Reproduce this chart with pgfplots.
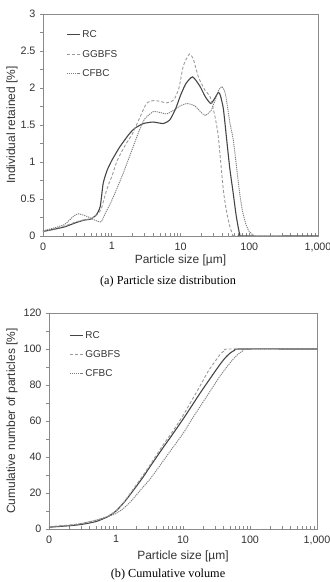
\documentclass[border=0pt]{standalone}
\usepackage{pgfplots}
\pgfplotsset{compat=1.18}
\usepackage{fontspec}
\setmainfont{Liberation Sans}
\newfontfamily\capfont{Liberation Serif}
\definecolor{rccol}{HTML}{454545}
\definecolor{ggcol}{HTML}{9A9A9A}
\definecolor{cfcol}{HTML}{7E7E7E}
\definecolor{axcol}{HTML}{8A8A8A}
\definecolor{txtcol}{HTML}{333333}
\pgfplotsset{
  rc/.style={rccol, line width=1.1bp, smooth, tension=0.35},
  gg/.style={ggcol, line width=0.9bp, dash pattern=on 3bp off 2bp, smooth, tension=0.35},
  cf/.style={cfcol, line width=0.9bp, dash pattern=on 1.2bp off 0.9bp, smooth, tension=0.35},
  common/.style={
    scale only axis,
    anchor=south west,
    xmin=0.1, xmax=1000,
    xtick={0.1,1,10,100,1000},
    xticklabels={0,1,10,100,{1,000}},
    xtick pos=bottom, ytick pos=left,
    tick align=inside,
    major tick length=3bp, minor tick length=3bp,
    y tick style={xshift=-3bp},
    tick style={draw=axcol, line width=0.6bp},
    axis line style={draw=axcol, line width=0.8bp},
    minor y tick num=1,
    /pgf/number format/assume math mode=true,
    tick label style={font=\fontsize{10.8}{12}\selectfont, text=txtcol},
    xticklabel style={yshift=-3bp},
    yticklabel style={xshift=-4bp},
    legend cell align=left,
    legend image code/.code={\draw[##1] (0bp,0bp)--(13bp,0bp);},
  }
}
\begin{document}
\begin{tikzpicture}
\useasboundingbox (0bp,0bp) rectangle (330bp,582bp);
\begin{semilogxaxis}[common, at={(43bp,346bp)}, width=275bp, height=222bp,
  ymin=0, ymax=3, ytick={0,0.5,1,1.5,2,2.5,3},
  yticklabels={0,0.5,1,1.5,2,2.5,3},
  xlabel={Particle size [µm]}, ylabel={Individual retained [\%]},
  every axis x label/.style={at={(axis description cs:0.5,-0.108)}, anchor=center, font=\fontsize{12}{14}\selectfont, text=txtcol},
  every axis y label/.style={at={(axis description cs:-0.113,0.5)}, rotate=90, anchor=center, font=\fontsize{12}{14}\selectfont, text=txtcol},
  legend style={at={(axis description cs:0.084,0.935)}, anchor=north west, draw=none, fill=none,
    font=\fontsize{10}{11}\selectfont, text=txtcol, row sep=7bp, inner sep=0pt},
]
\addplot[rc] coordinates {(0.1,0.06)(0.2,0.12)(0.3,0.18)(0.4,0.215)(0.5,0.23)(0.6,0.29)(0.68,0.40)(0.75,0.71)(0.85,0.88)(0.94,0.97)(1.0,1.02)(1.3,1.20)(1.8,1.38)(2.2,1.46)(2.9,1.52)(4.0,1.54)(5.6,1.52)(7.0,1.57)(8.5,1.72)(10,1.90)(12,2.06)(15,2.15)(19,2.03)(23,1.88)(27.5,1.79)(31,1.85)(35.5,1.94)(38,1.90)(42,1.72)(47,1.30)(52,0.92)(58,0.60)(64,0.30)(69,0.12)(73,0.02)(80,0)(1000,0)};
\addlegendentry{RC}
\addplot[gg] coordinates {(0.1,0.06)(0.2,0.13)(0.3,0.19)(0.4,0.22)(0.5,0.235)(0.6,0.28)(0.7,0.36)(0.8,0.55)(0.9,0.70)(1.0,0.80)(1.2,1.02)(1.6,1.24)(2.0,1.38)(2.5,1.58)(3.2,1.79)(4.0,1.83)(5.0,1.82)(6.3,1.80)(8.0,1.84)(9.5,2.00)(11,2.30)(13.5,2.46)(15.5,2.38)(18.2,2.15)(22.7,1.97)(27,1.88)(31.8,1.61)(35.5,1.34)(42,0.62)(47,0.32)(52.5,0.12)(58,0.01)(62,0)(1000,0)};
\addlegendentry{GGBFS}
\addplot[cf] coordinates {(0.1,0.07)(0.2,0.15)(0.28,0.27)(0.33,0.30)(0.45,0.26)(0.55,0.22)(0.7,0.19)(0.8,0.30)(1.0,0.48)(1.2,0.65)(1.5,0.87)(2.0,1.18)(2.5,1.42)(3.0,1.58)(4.0,1.68)(5.0,1.67)(6.3,1.65)(8.0,1.70)(10,1.76)(12.5,1.79)(16,1.76)(20,1.67)(23,1.63)(28,1.70)(32,1.84)(36,1.97)(40,2.02)(45,1.92)(52.5,1.52)(58.6,1.30)(65,0.95)(72,0.60)(80,0.33)(90,0.15)(100,0.06)(115,0.01)(125,0)(1000,0)};
\addlegendentry{CFBC}
\end{semilogxaxis}
\node[font=\capfont\fontsize{12.3}{14}\selectfont, text=black] at (168bp,300bp) {(a) Particle size distribution};

\begin{semilogxaxis}[common, at={(49bp,53bp)}, width=268bp, height=216bp,
  ymin=0, ymax=120, ytick={0,20,40,60,80,100,120},
  xlabel={Particle size [µm]}, ylabel={Cumulative number of particles [\%]},
  every axis x label/.style={at={(axis description cs:0.5,-0.125)}, anchor=center, font=\fontsize{12}{14}\selectfont, text=txtcol},
  every axis y label/.style={at={(axis description cs:-0.138,0.5)}, rotate=90, anchor=center, font=\fontsize{12}{14}\selectfont, text=txtcol},
  legend style={at={(axis description cs:0.075,0.925)}, anchor=north west, draw=none, fill=none,
    font=\fontsize{10}{11}\selectfont, text=txtcol, row sep=6.5bp, inner sep=0pt},
]
\addplot[rc] coordinates {(0.1,1.0)(0.2,1.8)(0.3,2.5)(0.5,4.1)(0.75,6.8)(1.0,10)(1.3,14.5)(1.68,19.8)(2.5,28.5)(3.34,35.5)(5,45)(6.66,51.5)(10,61)(13.3,68)(18,75.5)(26.4,84.5)(35,91)(42,94.8)(50,97.6)(59,99.3)(70,100)(1000,100)};
\addlegendentry{RC}
\addplot[gg] coordinates {(0.1,1.3)(0.2,2.2)(0.3,3.0)(0.5,4.7)(0.75,7.0)(1.0,10.2)(1.3,14.8)(1.68,20.5)(2.5,29.5)(3.34,36.5)(5,46.5)(6.66,53)(10,63)(13.3,71)(18,79.5)(23.6,87.5)(30,93)(37,97.6)(43,99.3)(50,100)(1000,100)};
\addlegendentry{GGBFS}
\addplot[cf] coordinates {(0.1,1.1)(0.2,2.0)(0.3,3.0)(0.5,4.9)(0.75,6.9)(1.0,8.6)(1.3,11.5)(1.68,15.5)(2.5,23)(3.34,28.5)(5,37.5)(6.66,44)(10,53)(13.3,60.5)(18,68)(26.4,77.5)(35,84.5)(42,88.5)(55,94)(66,97)(80,99.2)(94,100)(1000,100)};
\addlegendentry{CFBC}
\end{semilogxaxis}
\node[font=\capfont\fontsize{12.3}{14}\selectfont, text=black] at (168bp,7bp) {(b) Cumulative volume};
\end{tikzpicture}
\end{document}
